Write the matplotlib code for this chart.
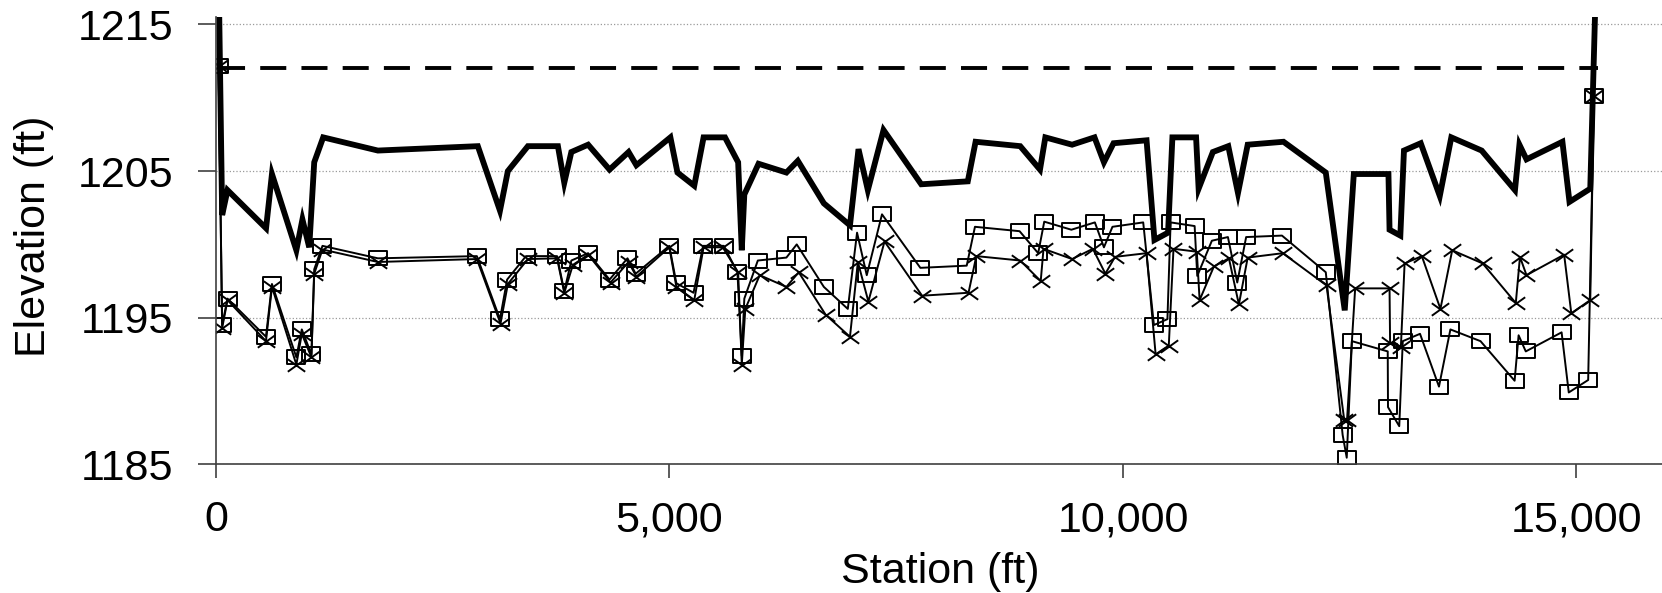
import matplotlib
matplotlib.use('Agg')
import matplotlib.pyplot as plt
from matplotlib.path import Path
from matplotlib.ticker import StrMethodFormatter

# thick line (top profile)
top_sta = [30, 68, 127, 552, 617, 886, 953, 1028, 1083, 1182, 1785, 2887, 3131, 3218, 3439,
           3770, 3840, 3918, 4103, 4339, 4549, 4635, 5010, 5088, 5273, 5376, 5612, 5757, 5797,
           5825, 5982, 6289, 6415, 6702, 6990, 7084, 7187, 7360, 7776, 8289, 8375, 8867, 9085,
           9144, 9439, 9686, 9790, 9896, 10260, 10347, 10497, 10545, 10806, 10834, 10991, 11161,
           11268, 11375, 11770, 12236, 12445, 12545, 12927, 12939, 13058, 13098, 13283, 13493,
           13620, 13955, 14322, 14371, 14449, 14845, 14923, 15152, 15215]
top_elev = [1218, 1202.0, 1203.7, 1201.1, 1204.8, 1199.6, 1201.7, 1199.8, 1205.6, 1207.3, 1206.4,
            1206.7, 1202.3, 1205.0, 1206.7, 1206.7, 1204.2, 1206.3, 1206.8, 1205.1, 1206.3,
            1205.4, 1207.3, 1204.9, 1204.0, 1207.3, 1207.3, 1205.6, 1199.6, 1203.4, 1205.5,
            1204.9, 1205.7, 1202.8, 1201.3, 1206.5, 1203.7, 1207.8, 1204.1, 1204.3, 1207.0,
            1206.7, 1205.1, 1207.3, 1206.8, 1207.3, 1205.6, 1206.9, 1207.1, 1200.3, 1200.8,
            1207.3, 1207.3, 1203.8, 1206.3, 1206.7, 1203.5, 1206.8, 1207.0, 1204.9, 1195.5,
            1204.8, 1204.8, 1201.0, 1200.6, 1206.4, 1206.9, 1203.3, 1207.3, 1206.4, 1203.7,
            1206.8, 1205.8, 1207.0, 1202.9, 1203.8, 1218]

# dashed level
flat_sta = [28, 15235]
flat_elev = [1212, 1212]

# square series
sq_sta = [28, 68, 127, 551, 617, 886, 946, 1052, 1083, 1174, 1785, 2876, 3131, 3210, 3418,
          3760, 3840, 3918, 4103, 4339, 4537, 4627, 4998, 5076, 5265, 5371, 5599, 5749, 5797,
          5825, 5974, 6289, 6403, 6702, 6966, 7068, 7175, 7343, 7766, 8277, 8368, 8860, 9065,
          9132, 9431, 9690, 9790, 9884, 10223, 10341, 10490, 10525, 10790, 10819, 10980, 11157,
          11260, 11358, 11753, 12236, 12422, 12467, 12524, 12919, 12922, 13046, 13085, 13275,
          13484, 13610, 13942, 14318, 14362, 14441, 14836, 14915, 15129, 15192]
sq_elev = [1212.2, 1194.5, 1196.3, 1193.7, 1197.3, 1192.3, 1194.2, 1192.5, 1198.3, 1199.9,
           1199.05, 1199.2, 1194.9, 1197.6, 1199.2, 1199.2, 1196.8, 1198.9, 1199.4, 1197.6,
           1199.05, 1198.0, 1199.9, 1197.35, 1196.7, 1199.9, 1199.9, 1198.1, 1192.4, 1196.3,
           1198.9, 1199.1, 1200.0, 1197.1, 1195.6, 1200.8, 1197.9, 1202.05, 1198.4, 1198.55,
           1201.2, 1200.9, 1199.4, 1201.55, 1201.0, 1201.5, 1199.8, 1201.2, 1201.5, 1194.5,
           1194.9, 1201.5, 1201.25, 1197.85, 1200.25, 1200.5, 1197.4, 1200.5, 1200.6, 1198.1,
           1187.0, 1185.45, 1193.4, 1192.7, 1188.9, 1187.6, 1193.4, 1193.9, 1190.3, 1194.2,
           1193.4, 1190.7, 1193.8, 1192.7, 1194.0, 1189.9, 1190.75, 1210.1]

# x series
xs_sta = [28, 68, 127, 551, 617, 886, 946, 1052, 1083, 1174, 1785, 2876, 3137, 3218, 3439,
          3760, 3840, 3935, 4103, 4350, 4549, 4635, 4998, 5076, 5273, 5376, 5587, 5757, 5797,
          5836, 5995, 6289, 6425, 6722, 6990, 7077, 7193, 7371, 7785, 8297, 8383, 8867, 9093,
          9124, 9439, 9668, 9806, 9912, 10260, 10360, 10505, 10557, 10814, 10845, 11003, 11168,
          11278, 11375, 11762, 12244, 12440, 12470, 12560, 12939, 12945, 13064, 13105, 13295,
          13500, 13630, 13966, 14331, 14377, 14449, 14864, 14943, 15152, 15192]
xs_elev = [1212.2, 1194.3, 1196.2, 1193.4, 1197.1, 1191.8, 1193.9, 1192.3, 1198.0, 1199.65,
           1198.8, 1199.0, 1194.6, 1197.3, 1199.0, 1199.05, 1196.7, 1198.6, 1199.3, 1197.4,
           1198.8, 1197.8, 1199.8, 1197.1, 1196.2, 1199.8, 1199.8, 1198.1, 1191.8, 1195.6,
           1197.9, 1197.1, 1198.1, 1195.2, 1193.7, 1198.8, 1196.1, 1200.2, 1196.5, 1196.7,
           1199.2, 1198.9, 1197.5, 1199.7, 1199.0, 1199.7, 1198.0, 1199.15, 1199.4, 1192.5,
           1193.1, 1199.7, 1199.5, 1196.2, 1198.5, 1199.05, 1195.9, 1199.1, 1199.4, 1197.2,
           1188.0, 1188.0, 1197.0, 1197.0, 1193.3, 1193.0, 1198.7, 1199.2, 1195.6, 1199.6,
           1198.7, 1196.0, 1199.15, 1197.9, 1199.3, 1195.3, 1196.2, 1210.1]

xticks = [0, 5000, 10000, 15000]
yticks = [1185, 1195, 1205, 1215]

plt.rcParams['font.family'] = ['Liberation Sans', 'DejaVu Sans']

# slightly wide markers, like the stretched original
box = Path([(-1, -0.78), (1, -0.78), (1, 0.78), (-1, 0.78), (-1, -0.78)],
           [Path.MOVETO, Path.LINETO, Path.LINETO, Path.LINETO, Path.CLOSEPOLY])
cross = Path([(-1, -0.72), (1, 0.72), (-1, 0.72), (1, -0.72)],
             [Path.MOVETO, Path.LINETO, Path.MOVETO, Path.LINETO])

fig = plt.figure(figsize=(16.62, 5.93), dpi=100)
ax = fig.add_axes([0.12996, 0.21703, 0.87004, 0.7543])

ax.plot(xs_sta, xs_elev, color='black', lw=1.4, marker=cross, ms=12.5, mew=1.4)
ax.plot(sq_sta, sq_elev, color='black', lw=1.4, marker=box, ms=13, mew=1.4, mfc='none')
ax.plot(flat_sta, flat_elev, color='black', lw=2.8, linestyle=(0, (6.7, 3.9)))
ax.plot(top_sta, top_elev, color='black', lw=4.2, solid_joinstyle='miter')

ax.set_xlim(0, 15943)
ax.set_ylim(1185, 1215.51)
ax.set_xticks(xticks)
ax.set_yticks(yticks)
ax.xaxis.set_major_formatter(StrMethodFormatter('{x:,.0f}'))

ax.yaxis.grid(True, color='#9a9a9a', linestyle=':', lw=0.9)
ax.set_axisbelow(True)
for s in ['top', 'right']:
    ax.spines[s].set_visible(False)
for s in ['left', 'bottom']:
    ax.spines[s].set_color('#404040')
    ax.spines[s].set_linewidth(1.2)

ax.tick_params(axis='y', direction='out', length=13, width=1.2, color='#404040',
               labelsize=31, pad=18)
ax.tick_params(axis='x', direction='out', length=10, width=1.2, color='#404040',
               labelsize=31, pad=16)

ax.set_xlabel('Station (ft)', fontsize=31)
ax.set_ylabel('Elevation (ft)', fontsize=31)
ax.xaxis.set_label_coords(0.5007, -0.195)
ax.yaxis.set_label_coords(-0.112, 0.51)

fig.savefig('out.png', dpi=100)
